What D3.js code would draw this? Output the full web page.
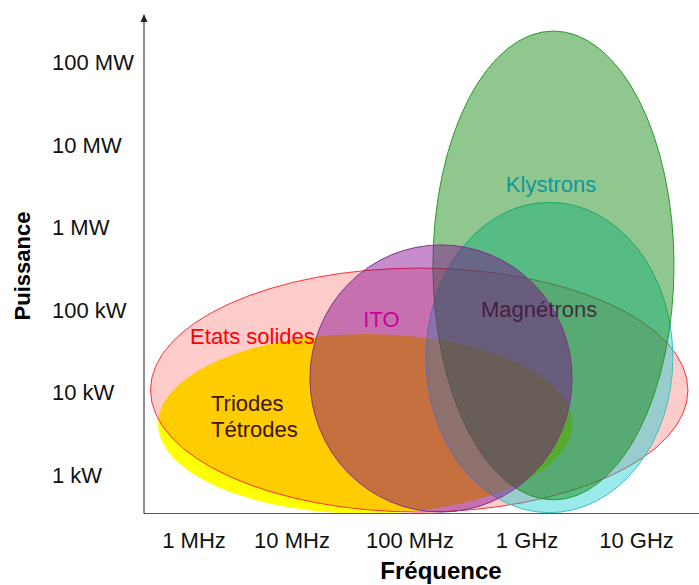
<!DOCTYPE html>
<html>
<head>
<meta charset="utf-8">
<script src="https://cdn.jsdelivr.net/npm/d3@7"></script>
<style>
  html, body { margin: 0; padding: 0; background: #fff; }
  svg { display: block; font-family: "Liberation Sans", Arial, sans-serif; }
</style>
</head>
<body>
<svg id="chart" width="699" height="585"></svg>
<script>
// ---- data ----
const freqTicks = [1e6, 1e7, 1e8, 1e9, 1e10];
const freqTickLabels = ["1 MHz", "10 MHz", "100 MHz", "1 GHz", "10 GHz"];
const powerTicks = [1e3, 1e4, 1e5, 1e6, 1e7, 1e8];
const powerTickLabels = ["1 kW", "10 kW", "100 kW", "1 MW", "10 MW", "100 MW"];

// technologies, in drawing order (bottom first)
const techs = ["Triodes Tétrodes", "Etats solides", "Magnétrons", "Klystrons", "ITO"];
const fMin = [4.3e5, 3.6e5, 1.37e8, 1.57e8, 1.42e7];   // Hz
const fMax = [2.58e9, 2.95e10, 2.15e10, 2.2e10, 2.58e9];
const pMin = [340, 356, 350, 500, 356];                // W
const pMax = [5.1e4, 3.2e5, 2.0e6, 2.37e8, 6.1e5];

// label anchors (frequency, power)
const labelF = [1.49e6, 3.95e6, 1.29e9, 1.66e9, 5.73e7];
const labelP = [7.44e3, 4.82e4, 1.02e5, 3.33e6, 7.74e4];

// ---- styles ----
const style = {
  "Triodes Tétrodes": { fill: "#ffff00", op: 1, stroke: "none", text: "#3a1500", anchor: "start" },
  "Etats solides":    { fill: "#ff0000", op: 0.2, stroke: "#ff3030", text: "#ff0000", anchor: "middle" },
  "Magnétrons":       { fill: "#00cccc", op: 0.4, stroke: "#40c0c0", text: "#3c0c30", anchor: "middle", tOp: 0.8 },
  "Klystrons":        { fill: "#008000", op: 0.44, stroke: "#2a9a2a", text: "#109898", anchor: "middle" },
  "ITO":              { fill: "#80008c", op: 0.45, stroke: "#803090", text: "#cc0099", anchor: "middle" }
};

const svg = d3.select("#chart");
const W = 699, H = 585;
const x0 = 144, yAxis = 513.5;

const x = d3.scaleLog().domain(freqTicks).range([194, 292, 410, 527, 636.5]);
const y = d3.scaleLog().domain([1e3, 1e8]).range([475, 62]);

// ellipses
const g = svg.append("g");
techs.forEach((t, i) => {
  const xl = x(fMin[i]), xr = x(fMax[i]);
  const yt = y(pMax[i]), yb = y(pMin[i]);
  const s = style[t];
  g.append("ellipse")
    .attr("cx", (xl + xr) / 2).attr("cy", (yt + yb) / 2)
    .attr("rx", (xr - xl) / 2).attr("ry", (yb - yt) / 2)
    .attr("fill", s.fill).attr("fill-opacity", s.op)
    .attr("stroke", s.stroke).attr("stroke-width", 1);
});

// axes
svg.append("line").attr("x1", x0).attr("x2", W).attr("y1", yAxis).attr("y2", yAxis)
  .attr("stroke", "#555").attr("stroke-width", 1.2);
svg.append("line").attr("x1", x0).attr("x2", x0).attr("y1", yAxis).attr("y2", 20)
  .attr("stroke", "#444").attr("stroke-width", 1.2);
svg.append("path").attr("d", `M${x0},14 L${x0 - 3.5},22 L${x0 + 3.5},22 Z`).attr("fill", "#222");

// tick labels
svg.append("g").selectAll("text").data(powerTicks).join("text")
  .attr("x", 52).attr("y", d => y(d)).attr("dy", "0.36em")
  .attr("font-size", 22).attr("fill", "#111")
  .text((d, i) => powerTickLabels[i]);

svg.append("g").selectAll("text").data(freqTicks).join("text")
  .attr("x", d => x(d)).attr("y", 548)
  .attr("text-anchor", "middle")
  .attr("font-size", 22).attr("fill", "#111")
  .text((d, i) => freqTickLabels[i]);

// axis titles
svg.append("text").attr("transform", "translate(30,266) rotate(-90)")
  .attr("text-anchor", "middle").attr("font-size", 22).attr("font-weight", "bold")
  .text("Puissance");
svg.append("text").attr("x", 441).attr("y", 579)
  .attr("text-anchor", "middle").attr("font-size", 24).attr("font-weight", "bold")
  .text("Fréquence");

// technology labels
techs.forEach((t, i) => {
  const s = style[t];
  const lines = t === "Triodes Tétrodes" ? ["Triodes", "Tétrodes"] : [t];
  const txt = svg.append("text")
    .attr("x", x(labelF[i])).attr("y", y(labelP[i]))
    .attr("text-anchor", s.anchor).attr("font-size", 22)
    .attr("fill", s.text).attr("fill-opacity", s.tOp || 1);
  lines.forEach((l, k) => {
    txt.append("tspan").attr("x", x(labelF[i]))
      .attr("dy", k === 0 ? "0.36em" : "26px").text(l);
  });
});
</script>
</body>
</html>
